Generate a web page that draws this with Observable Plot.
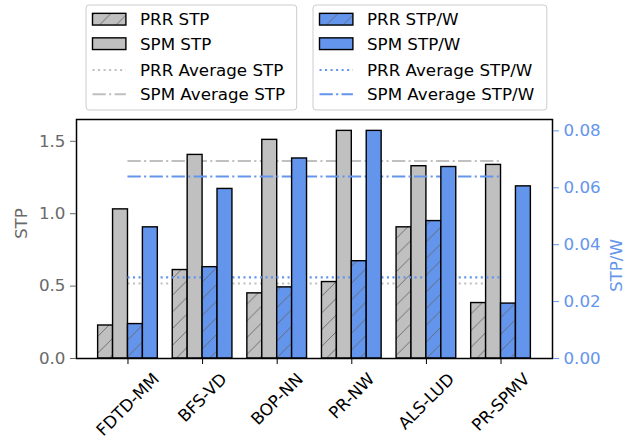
<!DOCTYPE html>
<html><head><meta charset="utf-8">
<script src="https://cdn.jsdelivr.net/npm/d3@7"></script>
<script src="https://cdn.jsdelivr.net/npm/@observablehq/plot@0.6"></script>
<style>
body{margin:0;background:#fff;}
#wrap{position:relative;width:635px;height:439px;font-family:"DejaVu Sans",sans-serif;}
#wrap svg{position:absolute;left:0;top:0;}
</style></head><body><div id="wrap"></div>
<script>
// ---- data ----
const categories = ["FDTD-MM", "BFS-VD", "BOP-NN", "PR-NW", "ALS-LUD", "PR-SPMV"];
const prrSTP  = [0.228, 0.611, 0.450, 0.528, 0.906, 0.383];
const spmSTP  = [1.030, 1.406, 1.510, 1.572, 1.328, 1.337];
const prrSTPW = [0.0121, 0.0321, 0.0250, 0.0342, 0.0483, 0.0193];
const spmSTPW = [0.0461, 0.0596, 0.0703, 0.0800, 0.0673, 0.0605];
const stpTicks  = [0, 0.5, 1.0, 1.5];
const stpwTicks = [0, 0.02, 0.04, 0.06, 0.08];
const leftLegendLabels  = ["PRR STP", "SPM STP", "PRR Average STP", "SPM Average STP"];
const rightLegendLabels = ["PRR STP/W", "SPM STP/W", "PRR Average STP/W", "SPM Average STP/W"];
const axisLabels = ["STP", "STP/W"];

// ---- styles / layout ----
const W = 635, H = 439, MT = 119, MB = 81, ML = 76, MR = 83;
const FS = 16.7;
const GRAY = "#c0c0c0", BLUE = "#6495ed", AXGRAY = "dimgray";
const DOT = "2.08,3.44", DASHDOT = "13.3,3.33,2.08,3.33";
const LW = 2.08;

const stpMax = d3.max(spmSTP.concat(prrSTP)) * 1.05;
const stpwMax = d3.max(spmSTPW.concat(prrSTPW)) * 1.05;
const k = stpMax / stpwMax;
const n = categories.length;
const span = (n - 1) + 0.8;
const xDomain = [-0.4 - 0.05 * span, (n - 1) + 0.4 + 0.05 * span];

const avgPrrSTP = d3.mean(prrSTP), avgSpmSTP = d3.mean(spmSTP);
const avgPrrSTPW = d3.mean(prrSTPW), avgSpmSTPW = d3.mean(spmSTPW);

// measure label widths to place rotated labels like matplotlib (bbox centred on tick)
const ctx = document.createElement("canvas").getContext("2d");
ctx.font = `${FS}px "DejaVu Sans"`;
const hText = FS * 1.164;

function bars(values, off, fill, scale) {
  return Plot.rect(values.map((v, i) => ({i, v})), {
    x1: d => d.i + off - 0.1, x2: d => d.i + off + 0.1,
    y1: () => 0, y2: d => d.v * scale,
    fill, stroke: "black", strokeWidth: 1.4
  });
}
function avgLine(val, dash, color, scale) {
  return Plot.ruleY([val * scale], {
    y: d => d, x1: () => 0, x2: () => n - 1,
    stroke: color, strokeWidth: LW, strokeDasharray: dash
  });
}
function catLabel(c, i) {
  const L = ctx.measureText(c).width;
  return Plot.text([c], {x: () => i, frameAnchor: "bottom", text: d => d, rotate: -45,
    fontSize: FS, fill: "black", textAnchor: "middle", lineAnchor: "middle",
    dy: 6 + 5 + (L + hText) / (2 * Math.SQRT2)});
}

const svg = Plot.plot({
  width: W, height: H,
  marginTop: MT, marginBottom: MB, marginLeft: ML, marginRight: MR,
  style: {fontFamily: "DejaVu Sans", fontSize: FS + "px", background: "transparent"},
  x: {type: "linear", domain: xDomain},
  y: {domain: [0, stpMax]},
  marks: [
    avgLine(avgPrrSTP, DOT, GRAY, 1),
    avgLine(avgSpmSTP, DASHDOT, GRAY, 1),
    bars(prrSTP, -0.3, "url(#hatchGray)", 1),
    bars(spmSTP, -0.1, GRAY, 1),
    avgLine(avgPrrSTPW, DOT, BLUE, k),
    avgLine(avgSpmSTPW, DASHDOT, BLUE, k),
    bars(prrSTPW, 0.1, "url(#hatchBlue)", k),
    bars(spmSTPW, 0.3, BLUE, k),
    Plot.frame({stroke: "black", strokeWidth: 1.5}),
    Plot.axisY({ticks: stpTicks, tickFormat: d3.format(".1f"), tickSize: 6, tickPadding: 5,
      color: AXGRAY, fontSize: FS, label: null}),
    Plot.axisY({anchor: "right", ticks: stpwTicks.map(v => v * k), tickFormat: d => (d / k).toFixed(2),
      tickSize: 6, tickPadding: 5, color: BLUE, fontSize: FS, label: null}),
    Plot.axisX({ticks: d3.range(n), tickFormat: () => "", tickSize: 6, stroke: "black", label: null}),
    ...categories.map(catLabel),
    Plot.text([axisLabels[0]], {frameAnchor: "left", text: d => d, rotate: -90, dx: -55, fill: AXGRAY, fontSize: FS}),
    Plot.text([axisLabels[1]], {frameAnchor: "right", text: d => d, rotate: -90, dx: 64, fill: BLUE, fontSize: FS})
  ]
});

function addPatterns(sel, prefix) {
  const defs = sel.insert("defs", ":first-child");
  const P = 16.7;
  [["Gray", GRAY], ["Blue", BLUE]].forEach(([name, col]) => {
    const p = defs.append("pattern").attr("id", prefix + name)
      .attr("patternUnits", "userSpaceOnUse").attr("width", P).attr("height", P);
    p.append("rect").attr("width", P).attr("height", P).attr("fill", col);
    p.append("path").attr("d", `M${-P/4},${P/4}L${P/4},${-P/4}M0,${P}L${P},0M${P*3/4},${P*5/4}L${P*5/4},${P*3/4}`)
      .attr("stroke", "#666").attr("stroke-width", 0.9).attr("fill", "none");
  });
}
addPatterns(d3.select(svg), "hatch");

const wrap = document.getElementById("wrap");
wrap.append(svg);

// ---- legend overlay ----
const leg = d3.select(wrap).append("svg").attr("width", W).attr("height", MT).style("font-family", "DejaVu Sans");
addPatterns(leg, "lhatch");
const boxes = [
  {x: 86, w: 210.7, labels: leftLegendLabels, color: GRAY, hatch: "url(#lhatchGray)"},
  {x: 313, w: 233.8, labels: rightLegendLabels, color: BLUE, hatch: "url(#lhatchBlue)"}
];
const rowY = [14.2, 38.7, 65, 89.3];
boxes.forEach(b => {
  const g = leg.append("g").attr("transform", `translate(${b.x},5)`);
  g.append("rect").attr("width", b.w).attr("height", 105).attr("rx", 3)
    .attr("fill", "white").attr("fill-opacity", 0.8).attr("stroke", "#cccccc").attr("stroke-width", 1);
  b.labels.forEach((lab, j) => {
    const y = rowY[j];
    if (j < 2) {
      g.append("rect").attr("x", 6.5).attr("y", y - 5.85).attr("width", 33.4).attr("height", 11.7)
        .attr("fill", j === 0 ? b.hatch : b.color).attr("stroke", "black").attr("stroke-width", 1.4);
    } else {
      g.append("line").attr("x1", 6.5).attr("x2", 39.9).attr("y1", y).attr("y2", y)
        .attr("stroke", b.color).attr("stroke-width", LW).attr("stroke-dasharray", j === 2 ? DOT : DASHDOT);
    }
    g.append("text").attr("x", 54).attr("y", y + 0.729 * FS / 2).attr("font-size", FS).attr("fill", "black").text(lab);
  });
});
</script></body></html>
